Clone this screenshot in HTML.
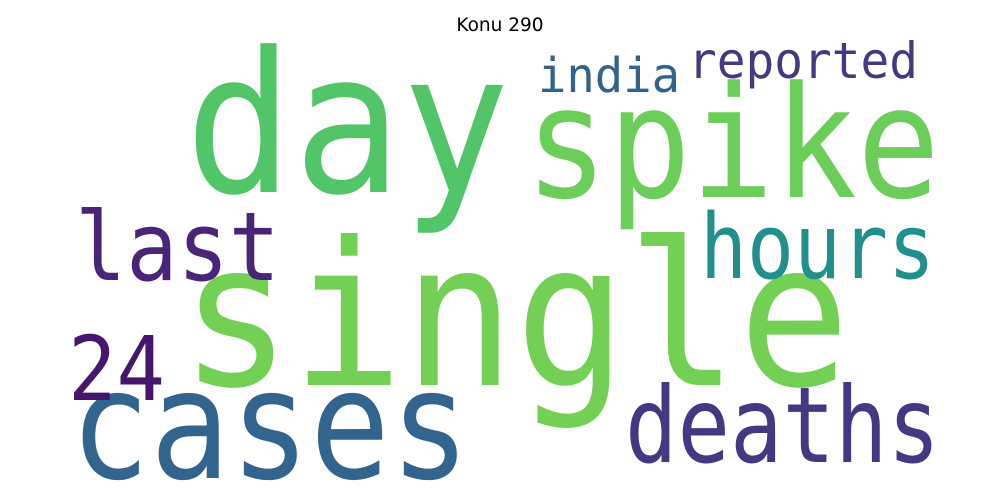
<!DOCTYPE html>
<html>
<head>
<meta charset="utf-8">
<style>
  html,body{margin:0;padding:0;background:#fff;}
  svg{display:block;}
  text{font-family:"DejaVu Sans Mono","Liberation Mono",monospace;}
  .title{font-family:"DejaVu Sans","Liberation Sans",sans-serif;}
</style>
</head>
<body>
<svg id="cloud" width="1000" height="500" viewBox="0 0 1000 500" xmlns="http://www.w3.org/2000/svg">
  <rect width="1000" height="500" fill="#ffffff"/>
  <text class="title" x="500" y="31" text-anchor="middle" font-size="18.5" fill="#000">Konu 290</text>
</svg>
<script>
const words = ["day","single","spike","cases","deaths","last","hours","24","india","reported"];
const sizes = [196, 200, 155, 152, 105, 95, 90, 89, 48, 50];
const colors = ["#52c569","#74d055","#6ccd5a","#32648e","#453882","#482576","#21908d","#46166b","#33638d","#443a83"];
const layoutX = [185, 180, 525, 70, 625, 75, 700, 68, 538, 688];
const layoutY = [192, 385, 197, 478, 462, 280, 278, 400, 92, 78];
const layoutW = [325, 670, 415, 400, 315, 205, 235, 97, 142, 230];
const svg = document.getElementById('cloud');
for (let i = 0; i < words.length; i++) {
  const t = document.createElementNS('http://www.w3.org/2000/svg', 'text');
  t.setAttribute('x', layoutX[i]);
  t.setAttribute('y', layoutY[i]);
  t.setAttribute('font-size', sizes[i]);
  t.setAttribute('fill', colors[i]);
  t.setAttribute('textLength', layoutW[i]);
  t.setAttribute('lengthAdjust', 'spacingAndGlyphs');
  t.textContent = words[i];
  
  
  svg.appendChild(t);
}
</script>
</body>
</html>
